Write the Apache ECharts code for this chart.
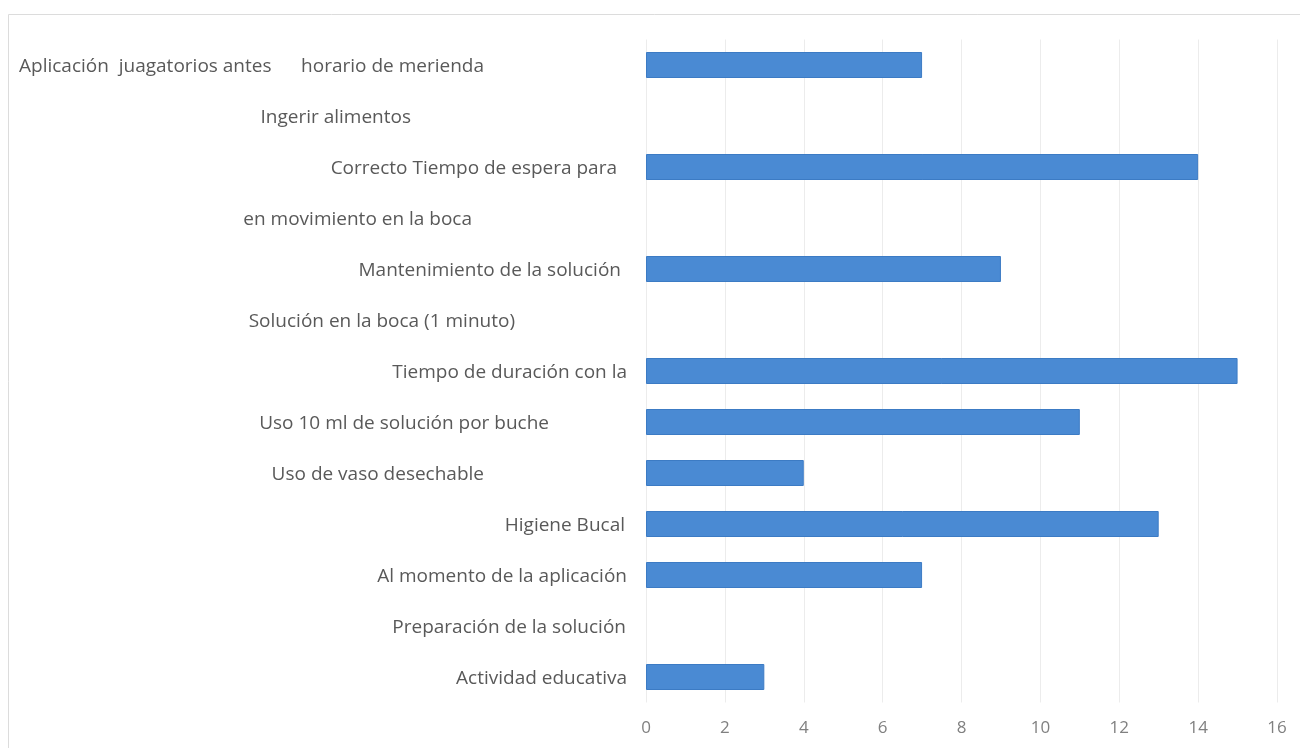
<!DOCTYPE html>
<html>
<head>
<meta charset="utf-8">
<title>Aplicación de enjuagatorios</title>
<script src="https://cdn.jsdelivr.net/npm/echarts@6/dist/echarts.min.js"></script>
<style>
  html, body { margin: 0; padding: 0; background: #ffffff; }
  #chart { width: 1300px; height: 748px; }
</style>
</head>
<body>
<div id="chart"></div>
<script>
// Activity categories, listed top to bottom
const categories = [
  'Aplicación  juagatorios antes      horario de merienda',
  'Ingerir alimentos',
  'Correcto Tiempo de espera para',
  'en movimiento en la boca',
  'Mantenimiento de la solución',
  'Solución en la boca (1 minuto)',
  'Tiempo de duración con la',
  'Uso 10 ml de solución por buche',
  'Uso de vaso desechable',
  'Higiene Bucal',
  'Al momento de la aplicación',
  'Preparación de la solución',
  'Actividad educativa'
];

// Count per category (null = no bar)
const counts = [7, null, 14, null, 9, null, 15, 11, 4, 13, 7, null, 3];

// Value axis ticks
const xTicks = [0, 2, 4, 6, 8, 10, 12, 14, 16];

// Extra right-side indent of each category label (px), as laid out in the sheet
const labelIndent = [143, 216, 10, 155, 6, 112, 0, 78, 143, 2, 0, 1, 0];

const rich = {};
labelIndent.forEach((p, i) => {
  rich['c' + i] = {
    fontFamily: 'Open Sans',
    fontSize: 19,
    color: '#595959',
    padding: [4, p, 0, 0]
  };
});

const chart = echarts.init(document.getElementById('chart'), null, { renderer: 'canvas' });

chart.setOption({
  backgroundColor: '#ffffff',
  animation: false,
  graphic: [{
    type: 'rect',
    shape: { x: 8.5, y: 14.5, width: 1400, height: 800 },
    style: { fill: 'none', stroke: '#dcdcdc', lineWidth: 1 },
    silent: true,
    z: -1
  }],
  grid: { left: 646, right: 23, top: 39.5, bottom: 45.5, containLabel: false },
  xAxis: {
    type: 'value',
    min: xTicks[0],
    max: xTicks[xTicks.length - 1],
    interval: xTicks[1] - xTicks[0],
    axisLine: { show: false },
    axisTick: { show: false },
    splitLine: { show: true, lineStyle: { color: '#ececec', width: 1 } },
    axisLabel: {
      color: '#808080',
      fontFamily: 'Open Sans',
      fontSize: 17,
      margin: 17
    }
  },
  yAxis: {
    type: 'category',
    data: categories,
    inverse: true,
    axisLine: { show: false },
    axisTick: { show: false },
    axisLabel: {
      margin: 19,
      formatter: (v, i) => '{c' + i + '|' + v + '}',
      rich: rich
    }
  },
  series: [{
    type: 'bar',
    data: counts,
    barWidth: 26,
    itemStyle: {
      color: '#4a8ad3',
      borderColor: '#3c7bc4',
      borderWidth: 1
    }
  }]
});
</script>
</body>
</html>
